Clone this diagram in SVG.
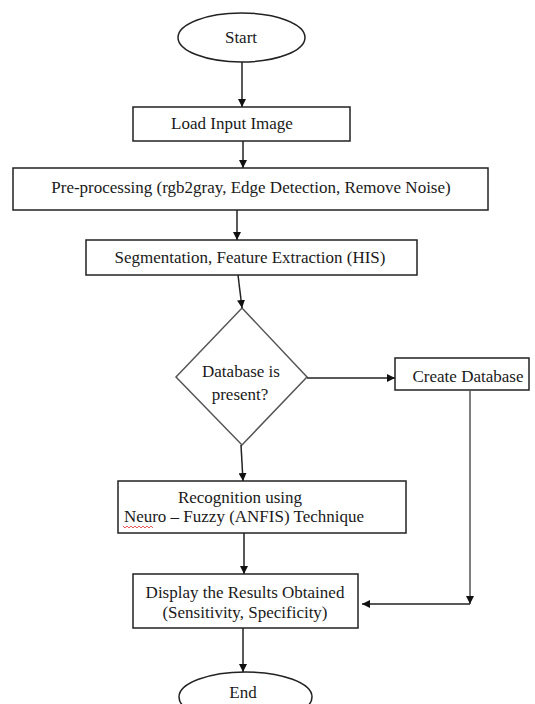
<svg xmlns="http://www.w3.org/2000/svg" width="535" height="704" viewBox="0 0 535 704">
<defs>
<style>
.box{fill:#fff;stroke:#222;stroke-width:1.5}
.dia{fill:#fff;stroke:#555;stroke-width:1.5}
.t{font-family:"Liberation Serif","Times New Roman",serif;font-size:17px;fill:#1a1a1a;text-anchor:middle}
.ln{fill:none;stroke:#222;stroke-width:1.5}
.g{stroke:#555}
</style>
<marker id="ah" viewBox="0 0 10 10" refX="10" refY="5" markerWidth="8" markerHeight="8" markerUnits="userSpaceOnUse" orient="auto">
<path d="M0,0 L10,5 L0,10 Z" fill="#111"/>
</marker>
</defs>
<rect width="535" height="704" fill="#fff"/>
<g id="start"><ellipse class="box" cx="241.5" cy="37.5" rx="63.5" ry="24.5"/><text class="t" x="241" y="43">Start</text></g>
<g id="load"><rect class="box" x="133" y="107" width="217" height="34"/><text class="t" x="232" y="129">Load Input Image</text></g>
<g id="pre"><rect class="box" x="13" y="168" width="475" height="42"/><text class="t" x="251" y="193">Pre-processing (rgb2gray, Edge Detection, Remove Noise)</text></g>
<g id="seg"><rect class="box" x="86" y="240" width="331" height="35"/><text class="t" x="250" y="263">Segmentation, Feature Extraction (HIS)</text></g>
<g id="decision"><polygon class="dia" points="242,308 307,377 242,445 176,377"/><text class="t" x="241" y="377">Database is</text><text class="t" x="240" y="400">present?</text></g>
<g id="create"><rect class="box" x="395" y="358" width="134" height="32"/><text class="t" x="468" y="382">Create Database</text></g>
<g id="recog"><rect class="box" x="118" y="481" width="288" height="52"/><text class="t" x="240" y="503">Recognition using</text><text class="t" x="244" y="522">Neuro – Fuzzy (ANFIS) Technique</text><path d="M123,526 l2,2 l2,-2 l2,2 l2,-2 l2,2 l2,-2 l2,2 l2,-2 l2,2 l2,-2 l2,2 l2,-2 l2,2 l2,-2 l2,2" fill="none" stroke="#e03030" stroke-width="0.8"/></g>
<g id="display"><rect class="box" x="133" y="574" width="225" height="54"/><text class="t" x="245" y="598">Display the Results Obtained</text><text class="t" x="245" y="618">(Sensitivity, Specificity)</text></g>
<g id="end"><ellipse class="box" cx="245.5" cy="697" rx="66.5" ry="25"/><text class="t" x="243" y="698">End</text></g>
<g id="connectors">
<line class="ln" x1="242" y1="62" x2="242" y2="107" marker-end="url(#ah)"/>
<line class="ln" x1="243" y1="141" x2="243" y2="168" marker-end="url(#ah)"/>
<line class="ln" x1="237" y1="210" x2="237" y2="240" marker-end="url(#ah)"/>
<line class="ln" x1="238" y1="275" x2="242" y2="308" marker-end="url(#ah)"/>
<line class="ln" x1="241" y1="445" x2="243" y2="481" marker-end="url(#ah)"/>
<line class="ln" x1="307" y1="378" x2="395" y2="378" marker-end="url(#ah)"/>
<line class="ln g" x1="470" y1="390" x2="470" y2="604" marker-end="url(#ah)"/>
<line class="ln" x1="470" y1="604" x2="362" y2="604" marker-end="url(#ah)"/>
<line class="ln" x1="244" y1="533" x2="244" y2="574" marker-end="url(#ah)"/>
<line class="ln" x1="243" y1="628" x2="243" y2="672" marker-end="url(#ah)"/>
</g>
</svg>
